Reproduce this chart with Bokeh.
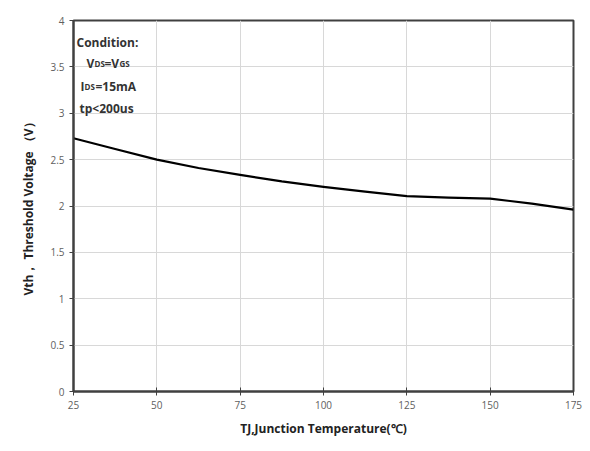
from bokeh.plotting import figure
from bokeh.models import Label, FixedTicker, Range1d
from bokeh.embed import file_html
from bokeh.resources import INLINE

# Data
temp_c = [25, 37.5, 50, 62.5, 75, 87.5, 100, 112.5, 125, 137.5, 150, 162.5, 175]
vth_v = [2.73, 2.615, 2.50, 2.41, 2.335, 2.265, 2.207, 2.155, 2.106, 2.09, 2.08, 2.025, 1.96]
x_ticks = [25, 50, 75, 100, 125, 150, 175]
y_ticks = [0, 0.5, 1, 1.5, 2, 2.5, 3, 3.5, 4]
y_tick_labels = {0: "0", 0.5: "0.5", 1: "1", 1.5: "1.5", 2: "2", 2.5: "2.5", 3: "3", 3.5: "3.5", 4: "4"}

FONT = "Open Sans"

p = figure(width=590, height=451, output_backend="svg", toolbar_location=None,
           x_range=Range1d(25, 175), y_range=Range1d(0, 4),
           min_border_left=73, min_border_right=17, min_border_top=20, min_border_bottom=60)
p.background_fill_color = "white"
p.border_fill_color = "white"
p.outline_line_color = "#404040"
p.outline_line_width = 2

p.line(temp_c, vth_v, line_color="black", line_width=2.2, line_join="round")

p.xaxis.ticker = FixedTicker(ticks=x_ticks)
p.yaxis.ticker = FixedTicker(ticks=y_ticks)
p.yaxis.major_label_overrides = y_tick_labels
for ax in (p.xaxis, p.yaxis):
    ax.axis_line_color = "#404040"
    ax.axis_line_width = 2
    ax.major_tick_line_color = "#404040"
    ax.minor_tick_line_color = None
    ax.major_label_text_font = FONT
    ax.major_label_text_font_size = "10px"
    ax.major_label_text_color = "#606060"
    ax.axis_label_text_font = FONT
    ax.axis_label_text_font_style = "bold"
    ax.axis_label_text_font_size = "12px"
    ax.axis_label_text_color = "#222222"
p.xaxis.major_tick_in = 4
p.xaxis.major_tick_out = 4
p.yaxis.major_tick_in = 0
p.yaxis.major_tick_out = 4
p.xaxis.axis_label = "TJ,Junction Temperature(℃)"
p.yaxis.axis_label = "Vth， Threshold Voltage （V）"
p.xaxis.axis_label_standoff = 8
p.yaxis.axis_label_standoff = 10

p.xgrid.grid_line_color = "#d8d8d8"
p.ygrid.grid_line_color = "#d8d8d8"
p.xgrid.ticker = FixedTicker(ticks=x_ticks)
p.ygrid.ticker = FixedTicker(ticks=y_ticks)

# Condition annotation (screen units relative to the plot frame's bottom-left)
FRAME_LEFT = 73
FRAME_BOTTOM = 391
def lab(x, y_top, text, size="12px"):
    p.add_layout(Label(x=x - FRAME_LEFT, y=FRAME_BOTTOM - y_top, x_units="screen", y_units="screen",
                       text=text, text_font=FONT, text_font_style="bold", text_font_size=size,
                       text_color="#333333", text_align="left", text_baseline="alphabetic"))

lab(76, 42, "Condition:")
lab(86, 63, "V")
lab(94, 63, "DS", size="8px")
lab(104, 63, "=V")
lab(119, 63, "GS", size="8px")
lab(80, 86, "I")
lab(84, 86, "DS", size="8px")
lab(95, 86, "=15mA")
lab(79, 108, "tp<200us")

open("out.html", "w").write(file_html(p, INLINE))
